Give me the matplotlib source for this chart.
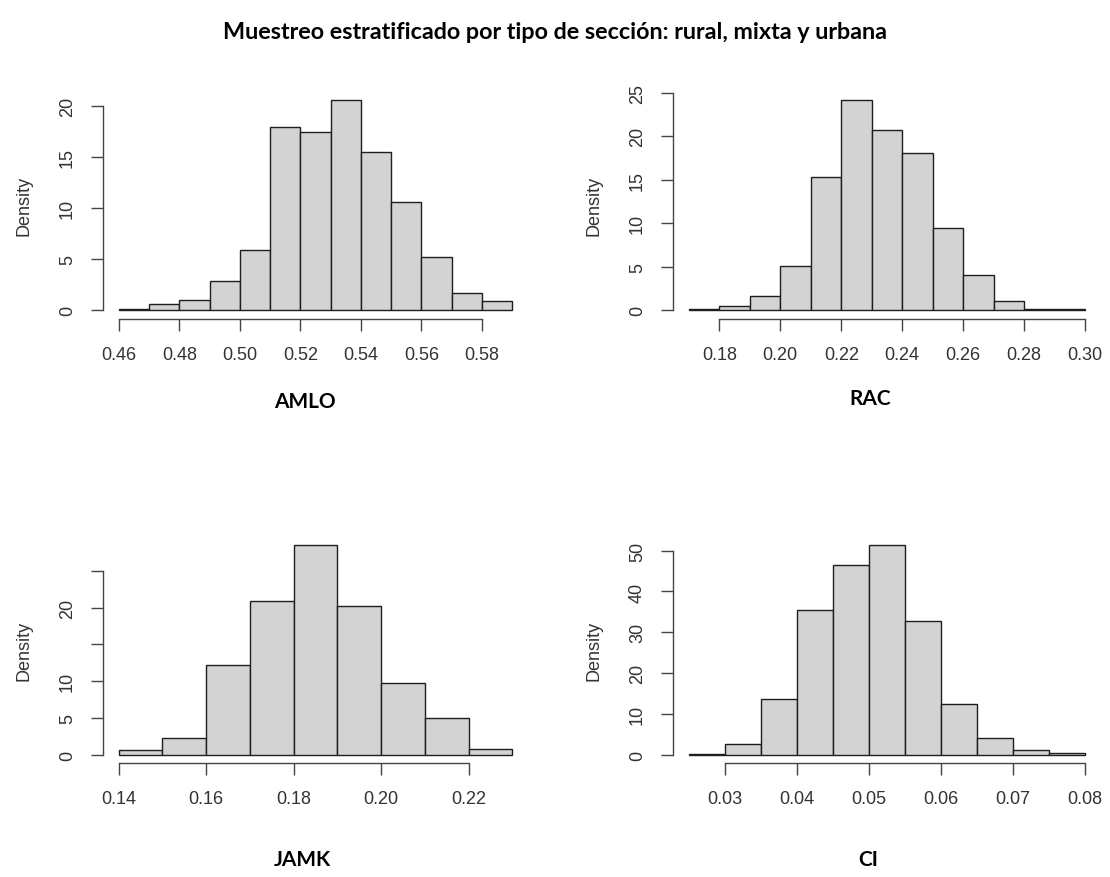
import numpy as np
import matplotlib
matplotlib.use("Agg")
import matplotlib.pyplot as plt

plt.rcParams["font.family"] = ["Liberation Sans", "DejaVu Sans"]

# bin starts / widths and densities
amlo_start, amlo_width = 0.46, 0.01
amlo_density = [0.1, 0.59, 0.98, 2.87, 5.87, 17.88, 17.46, 20.55, 15.43, 10.54, 5.15, 1.63, 0.85]

rac_start, rac_width = 0.17, 0.01
rac_density = [0.12, 0.42, 1.6, 5.1, 15.3, 24.2, 20.7, 18.05, 9.5, 4.0, 1.0, 0.1, 0.1]

jamk_start, jamk_width = 0.14, 0.01
jamk_density = [0.68, 2.3, 12.2, 20.9, 28.5, 20.2, 9.8, 4.95, 0.8]

ci_start, ci_width = 0.025, 0.005
ci_density = [0.2, 2.7, 13.6, 35.5, 46.4, 51.3, 32.8, 12.5, 4.05, 1.05, 0.4]

amlo_xticks = [0.46, 0.48, 0.50, 0.52, 0.54, 0.56, 0.58]
rac_xticks = [0.18, 0.20, 0.22, 0.24, 0.26, 0.28, 0.30]
jamk_xticks = [0.14, 0.16, 0.18, 0.20, 0.22]
ci_xticks = [0.03, 0.04, 0.05, 0.06, 0.07, 0.08]

amlo_yticks = [0, 5, 10, 15, 20]
rac_yticks = [0, 5, 10, 15, 20, 25]
jamk_yticks = [0, 5, 10, 15, 20, 25]
jamk_ylabels = ["0", "5", "10", "", "20", ""]
ci_yticks = [0, 10, 20, 30, 40, 50]

title = "Muestreo estratificado por tipo de sección: rural, mixta y urbana"

W, H = 1110, 878
fig = plt.figure(figsize=(W / 100, H / 100), dpi=100)

def px_rect(left, right, top, bottom):
    return [left / W, 1 - bottom / H, (right - left) / W, (bottom - top) / H]

panels = [
    ("AMLO", amlo_start, amlo_width, amlo_density, amlo_xticks, amlo_yticks, None,
     px_rect(103, 528, 92.5, 319.5), (305, 402)),
    ("RAC", rac_start, rac_width, rac_density, rac_xticks, rac_yticks, None,
     px_rect(673, 1101, 92.5, 319.5), (870, 399)),
    ("JAMK", jamk_start, jamk_width, jamk_density, jamk_xticks, jamk_yticks, jamk_ylabels,
     px_rect(103, 528, 538, 764), (302, 860)),
    ("CI", ci_start, ci_width, ci_density, ci_xticks, ci_yticks, None,
     px_rect(673, 1101, 538, 764), (868, 860)),
]

for name, start, width, dens, xt, yt, ylab, rect, lab_xy in panels:
    ax = fig.add_axes(rect)
    n = len(dens)
    edges = np.round(start + width * np.arange(n + 1), 4)
    ax.bar(edges[:-1], dens, width=width, align="edge", color="#d3d3d3",
           edgecolor="#1e1e1e", linewidth=1.0)
    lo, hi = edges[0], edges[-1]
    r = hi - lo
    ymax = max(dens)
    ax.set_xlim(lo - 0.04 * r, hi + 0.04 * r)
    ax.set_ylim(-0.04 * ymax, ymax * 1.04)
    for s in ("top", "right"):
        ax.spines[s].set_visible(False)
    ax.spines["bottom"].set_bounds(xt[0], xt[-1])
    ax.spines["left"].set_bounds(yt[0], yt[-1])
    for s in ("bottom", "left"):
        ax.spines[s].set_color("#444444")
        ax.spines[s].set_linewidth(1.0)
    ax.set_xticks(xt)
    ax.set_xticklabels(["%.2f" % v for v in xt])
    ax.set_yticks(yt)
    ax.set_yticklabels(ylab if ylab else [str(v) for v in yt], rotation=90, va="center")
    ax.tick_params(axis="both", direction="out", length=8.5, width=1.0, color="#444444",
                   labelsize=13, labelcolor="#333333")
    ax.tick_params(axis="x", pad=11)
    ax.tick_params(axis="y", pad=11)
    ax.set_ylabel("Density", fontsize=13, color="#333333", labelpad=19)
    fig.text(lab_xy[0] / W, 1 - lab_xy[1] / H, name, fontsize=15, fontweight="bold",
             family="Lato", ha="center", va="center")

fig.suptitle(title, y=1 - 22 / H, fontsize=16.8, fontweight="bold", family="Lato")

fig.savefig("out.png", dpi=100)
